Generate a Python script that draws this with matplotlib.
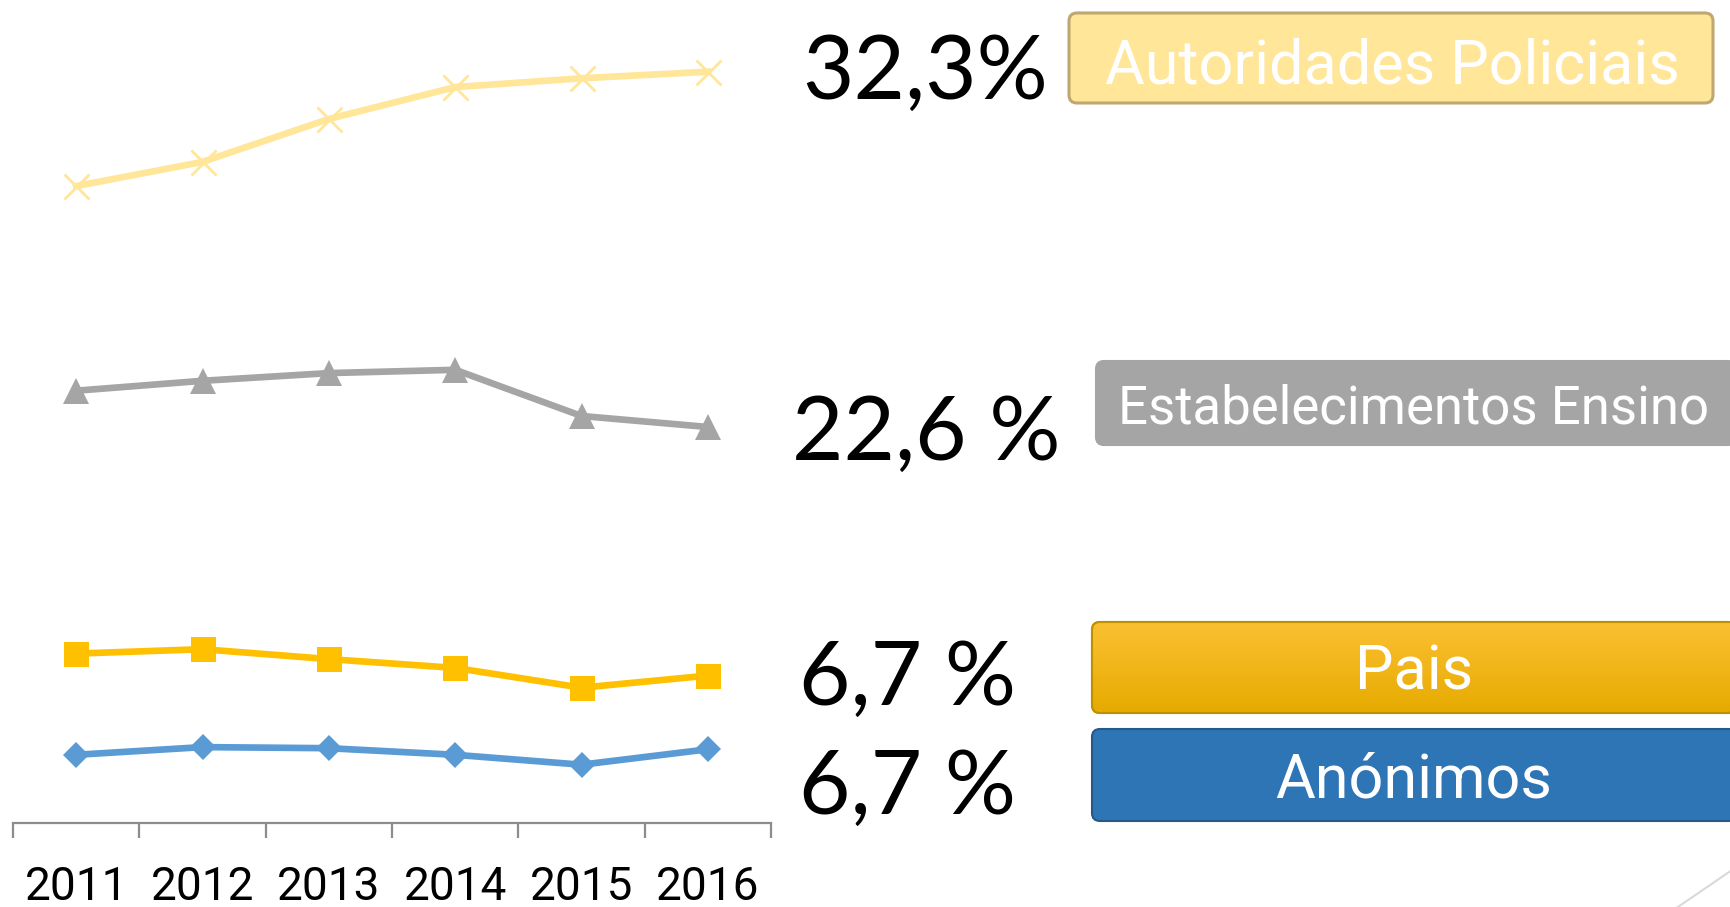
import numpy as np
import matplotlib
matplotlib.use("Agg")
import matplotlib.pyplot as plt
from matplotlib.patches import FancyBboxPatch
from matplotlib.lines import Line2D

# dados (percentagens por ano, empilhadas de baixo para cima)
years = ['2011', '2012', '2013', '2014', '2015', '2016']
anonimos = [6.2, 6.9, 6.8, 6.2, 5.3, 6.7]
pais = [9.2, 8.9, 8.1, 7.9, 7.0, 6.7]
estabelecimentos = [23.9, 24.4, 26.0, 27.1, 24.7, 22.6]
autoridades = [18.6, 19.9, 23.1, 25.7, 30.7, 32.3]

series_names = ['Anónimos', 'Pais', 'Estabelecimentos Ensino', 'Autoridades Policiais']
value_labels = ['6,7 %', '6,7 %', '22,6 %', '32,3%']
colors = ['#5B9BD5', '#FFC000', '#A5A5A5', '#FFE699']
markers = ['D', 's', '^', 'x']
msizes = [13, 18, 19, 18]

W, H = 1730, 907
fig = plt.figure(figsize=(W / 100, H / 100), dpi=100)

# grafico de linhas empilhadas
ax = fig.add_axes([13 / W, (H - 823) / H, 758 / W, 823 / H])
stack = np.cumsum([anonimos, pais, estabelecimentos, autoridades], axis=0)
x = np.arange(len(years))
for i in range(4):
    ax.plot(x, stack[i], color=colors[i], lw=4.8, marker=markers[i], ms=msizes[i],
            mew=2 if markers[i] == 'x' else 0, mec=colors[i], solid_joinstyle='miter')

ax.set_xlim(-0.5, 5.5)
ax.set_ylim(0, 823 / 11.0)
for s in ['top', 'right', 'left']:
    ax.spines[s].set_visible(False)
ax.spines['bottom'].set_color('#8C8C8C')
ax.spines['bottom'].set_linewidth(1.6)
ax.set_yticks([])
ax.set_xticks(x)
ax.set_xticklabels(years, family=['Roboto', 'DejaVu Sans'], fontsize=33)
ax.set_xticks(np.arange(-0.5, 6, 1), minor=True)
ax.tick_params(axis='x', which='major', length=0, pad=30)
ax.tick_params(axis='x', which='minor', length=11, width=1.6, color='#8C8C8C')

# camada em pixeis para caixas e textos
ov = fig.add_axes([0, 0, 1, 1])
ov.set_xlim(0, W)
ov.set_ylim(H, 0)
ov.axis('off')

# percentagens
pct_pos = [(799, 814), (799, 705), (792, 460), (802, 99)]
for (px, py), lab in zip(pct_pos, value_labels):
    ov.text(px, py, lab, ha='left', va='baseline', fontsize=64,
            family=['Lato', 'DejaVu Sans'], color='black')

# caixas da legenda
boxes = [
    (1092, 729, 645, 92, '#2E75B6', '#24598A', 797, 44),
    (1092, 622, 645, 91, '#F2B415', '#BF9000', 690, 44),
    (1096, 361, 640, 84, '#A5A5A5', '#A5A5A5', 424, 38),
    (1069, 13, 644, 90, '#FFE699', '#BFA76F', 83, 44),
]
for i, (bx, by, bw, bh, fc, ec, base, fs) in enumerate(boxes):
    p = FancyBboxPatch((bx, by), bw, bh, boxstyle='round,pad=0,rounding_size=8',
                       fc=fc, ec=ec, lw=2.2 if i == 3 else 1.5, zorder=2)
    ov.add_patch(p)
    if i == 1:
        grad = np.linspace(0, 1, 100).reshape(-1, 1)
        cmap = matplotlib.colors.LinearSegmentedColormap.from_list('g', ['#FBC032', '#E6AB00'])
        im = ov.imshow(grad, extent=(bx, bx + bw, by + bh, by), cmap=cmap,
                       aspect='auto', zorder=2.5)
        im.set_clip_path(p)
        ov.add_patch(FancyBboxPatch((bx, by), bw, bh, boxstyle='round,pad=0,rounding_size=8',
                                    fc='none', ec=ec, lw=1.5, zorder=3))
    cx = 1392 if i == 3 else 1414
    ov.text(cx, base, series_names[i], ha='center', va='baseline', color='white',
            fontsize=fs, family=['Roboto', 'DejaVu Sans'], zorder=4)
ov.set_xlim(0, W)
ov.set_ylim(H, 0)

# linha decorativa do slide
ov.add_line(Line2D([1675, 1732], [909, 870], color='#D9D9D9', lw=1.5))

fig.savefig('out.png', dpi=100)
